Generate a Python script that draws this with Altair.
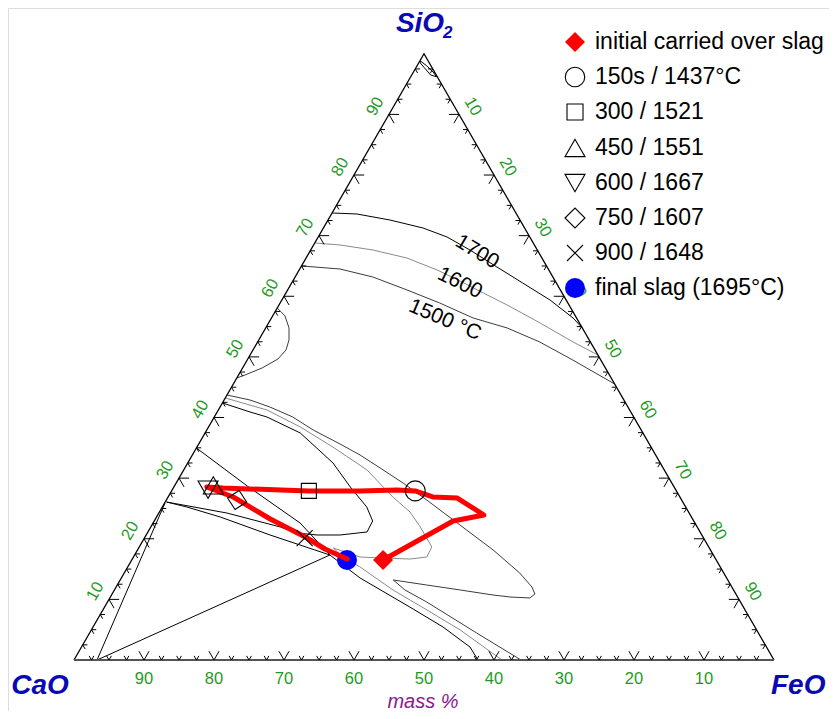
import altair as alt
import numpy as np
import pandas as pd

# ---------------- data (mass %) ----------------
# Boundary / isotherm curves, given as SiO2 and FeO mass % (CaO = 100 - SiO2 - FeO)
apex_sio2 = [98.8, 98.0, 97.0, 96.2, 96.5, 97.7, 98.5, 98.8]
apex_feo = [0.1, 1.4, 2.8, 3.7, 2.7, 1.2, 0.2, 0.1]

iso1700_sio2 = [73.74, 73.57, 72.58, 71.26, 69.78, 67.63, 64.83, 62.19, 59.39, 56.42, 54.8]
iso1700_feo = [0.0, 3.64, 8.85, 14.23, 18.4, 22.75, 28.0, 33.0, 38.3, 43.08, 45.2]

iso1600_sio2 = [68.79, 68.46, 67.63, 66.31, 64.34, 62.52, 60.54, 58.56, 55.59, 52.46, 50.31]
iso1600_feo = [0.0, 3.77, 8.9, 14.4, 19.7, 23.9, 28.2, 32.6, 38.8, 45.06, 49.69]

iso1500_sio2 = [65.0, 64.5, 63.18, 61.04, 58.89, 56.42, 54.77, 52.46, 49.49, 45.53]
iso1500_feo = [0.0, 5.75, 11.1, 17.05, 22.8, 28.8, 34.5, 40.3, 46.5, 54.47]

bulge_sio2 = [58.07, 56.75, 54.77, 52.79, 51.14, 49.65, 48.17, 47.01, 46.52]
bulge_feo = [0.0, 1.77, 3.33, 4.32, 4.72, 4.31, 2.78, 0.92, 0.0]

outer_sio2 = [43.71, 42.89, 41.74, 40.09, 37.94, 35.63, 33.82, 31.67, 29.20, 26.39, 22.27, 18.15,
              14.35, 12.04, 10.89, 10.23, 10.39, 10.72, 11.55, 12.37, 13.20, 11.55, 9.57, 4.45, 0.0]
outer_feo = [0.0, 3.7, 7.1, 11.2, 15.2, 20.2, 23.95, 27.9, 32.4, 37.2, 44.0, 50.8,
             56.5, 59.4, 60.4, 60.0, 57.1, 54.5, 49.4, 44.2, 39.0, 41.5, 45.6, 55.3, 63.86]

mid_sio2 = [43.22, 41.24, 38.44, 35.14, 31.34, 26.89, 24.41, 21.94, 18.64, 16.99, 16.66, 16.83,
            16.99, 18.48, 16.99, 15.34, 11.55, 8.25, 4.95, 0.0]
mid_feo = [0.0, 6.95, 13.1, 19.4, 26.2, 32.1, 35.8, 38.5, 41.8, 41.9, 39.7, 35.3,
           32.4, 27.8, 29.9, 33.2, 39.8, 46.3, 52.7, 61.14]

inner_sio2 = [42.40, 40.91, 40.09, 37.45, 32.50, 28.54, 25.24, 22.93, 21.12, 20.62, 20.62, 20.95,
              21.94, 24.25, 26.06]
inner_feo = [0.0, 4.7, 7.5, 13.6, 20.75, 25.2, 29.2, 31.2, 31.3, 27.7, 24.4, 21.4, 18.5, 9.7, 0.2]

low_sio2 = [26.06, 25.24, 23.59, 20.62, 17.32]
low_feo = [0.2, 3.5, 9.1, 17.7, 27.9]

tie_sio2 = [0.0, 17.32]
tie_feo = [3.29, 27.9]

edge_sio2 = [0.0, 25.9]
edge_feo = [3.29, 0.05]

down_sio2 = [17.32, 13.53, 8.74, 5.44, 2.14, 0.0]
down_feo = [27.9, 34.1, 43.6, 50.0, 55.5, 57.71]

diag_sio2 = [34.97, 28.70, 22.60, 17.32]
diag_feo = [0.0, 10.4, 21.0, 27.9]

# Slag path (red line), SiO2 / FeO mass %
path_sio2 = [16.5, 22.93, 23.92, 26.72, 26.89, 27.88, 28.04, 27.88, 27.88, 28.37, 28.54,
             26.89, 23.26, 20.29, 18.31, 16.66]
path_feo = [35.9, 42.7, 46.6, 41.4, 37.8, 34.8, 32.1, 26.9, 19.6, 7.1, 4.7,
            9.3, 16.4, 22.9, 26.7, 30.7]

# Slag samples
sample_labels = ["initial carried over slag", "150s / 1437°C", "300 / 1521", "450 / 1551",
                 "600 / 1667", "750 / 1607", "900 / 1648", "final slag (1695°C)"]
sample_sio2 = [16.5, 27.9, 27.9, 28.8, 28.1, 26.4, 20.1, 16.5]
sample_feo = [35.9, 34.8, 19.6, 5.5, 5.1, 10.1, 22.9, 30.75]

axis_values = [10, 20, 30, 40, 50, 60, 70, 80, 90]
isotherm_labels = ["1700", "1600", "1500 °C"]

# ---------------- geometry helpers ----------------
S3 = np.sqrt(3) / 2
PX = 7.0                      # pixels per mass-% unit
W, H = 821, 703
X0, Y0 = 66.0, 652.0          # plot pixel of the CaO corner


def tern(sio2, feo):
    s = np.asarray(sio2, float)
    f = np.asarray(feo, float)
    return f + s / 2, s * S3


def page(px, py):
    # page pixel -> plot data coordinates (for annotations / legend layout)
    return (px - 8 - X0) / PX, (Y0 - (py - 8)) / PX


xs = alt.Scale(domain=[-X0 / PX, (W - X0) / PX], nice=False, zero=False)
ys = alt.Scale(domain=[(Y0 - H) / PX, Y0 / PX], nice=False, zero=False)
XE = alt.X("X:Q", scale=xs, axis=None)
YE = alt.Y("Y:Q", scale=ys, axis=None)

FONT = "Liberation Sans"

# ---------------- curves ----------------
curves = [
    ("apex", apex_sio2, apex_feo, "k"),
    ("i1700", iso1700_sio2, iso1700_feo, "k"),
    ("i1600", iso1600_sio2, iso1600_feo, "g"),
    ("i1500", iso1500_sio2, iso1500_feo, "d"),
    ("bulge", bulge_sio2, bulge_feo, "d"),
    ("outer", outer_sio2, outer_feo, "d"),
    ("mid", mid_sio2, mid_feo, "g"),
    ("inner", inner_sio2, inner_feo, "k"),
    ("low", low_sio2, low_feo, "k"),
    ("tie", tie_sio2, tie_feo, "k"),
    ("edge", edge_sio2, edge_feo, "k"),
    ("down", down_sio2, down_feo, "k"),
    ("diag", diag_sio2, diag_feo, "k"),
]
rows = []
for name, s, f, st in curves:
    X, Y = tern(s, f)
    for i, (x, y) in enumerate(zip(X, Y)):
        rows.append(dict(curve=name, style=st, order=i, X=x, Y=y))
curve_df = pd.DataFrame(rows)

lines = alt.Chart(curve_df).mark_line(strokeWidth=1, strokeJoin="round").encode(
    x=XE, y=YE, detail="curve:N", order="order:Q",
    color=alt.Color("style:N", scale=alt.Scale(domain=["k", "g", "d"],
                                               range=["#000000", "#8a8a8a", "#3c3c3c"]), legend=None),
)

# triangle frame
fx, fy = tern([0, 100, 0], [0, 0, 100])
frame_df = pd.DataFrame(dict(X=fx, Y=fy, order=[0, 1, 2]))
frame = alt.Chart(frame_df).mark_line(color="black", strokeWidth=1.3).encode(x=XE, y=YE, order="order:Q")
bx, by = tern([0, 0], [0, 100])
bottom = alt.Chart(pd.DataFrame(dict(X=bx, Y=by))).mark_line(color="#555555", strokeWidth=2.2).encode(x=XE, y=YE)

# ticks
trows = []
for t in np.arange(2.5, 100, 2.5):
    major = abs(t % 10) < 1e-9
    L = 1.45 if major else 0.68
    bxp, byp = t, 0.0
    for dx, dy in [(0.5, S3), (-0.5, S3)]:
        trows.append(dict(X=bxp, Y=byp, X2=bxp + L * dx, Y2=byp + L * dy))
    lx, ly = tern(t, 0)
    for dx, dy in [(1.0, 0.0), (0.5, -S3)]:
        trows.append(dict(X=float(lx), Y=float(ly), X2=float(lx) + L * dx, Y2=float(ly) + L * dy))
    rx, ry = tern(100 - t, t)
    for dx, dy in [(-1.0, 0.0), (-0.5, -S3)]:
        trows.append(dict(X=float(rx), Y=float(ry), X2=float(rx) + L * dx, Y2=float(ry) + L * dy))
ticks = alt.Chart(pd.DataFrame(trows)).mark_rule(color="black", strokeWidth=1).encode(
    x=XE, y=YE, x2="X2:Q", y2="Y2:Q")

# tick labels
GREEN = "#1f9a1f"
TFS = 16.5
off = 16 / PX
lab_b = pd.DataFrame(dict(X=[100.0 - v for v in axis_values], Y=[-19 / PX] * 9, t=[str(v) for v in axis_values]))
lxs, lys = tern(axis_values, [0] * 9)
lab_l = pd.DataFrame(dict(X=lxs - off * S3, Y=lys + off * 0.5, t=[str(v) for v in axis_values]))
rxs, rys = tern([100 - v for v in axis_values], axis_values)
lab_r = pd.DataFrame(dict(X=rxs + off * S3, Y=rys + off * 0.5, t=[str(v) for v in axis_values]))
tl_b = alt.Chart(lab_b).mark_text(font=FONT, fontSize=TFS, color=GREEN, baseline="middle").encode(x=XE, y=YE, text="t:N")
tl_l = alt.Chart(lab_l).mark_text(font=FONT, fontSize=TFS, color=GREEN, baseline="middle", angle=300).encode(x=XE, y=YE, text="t:N")
tl_r = alt.Chart(lab_r).mark_text(font=FONT, fontSize=TFS, color=GREEN, baseline="middle", angle=60).encode(x=XE, y=YE, text="t:N")

# isotherm labels
iso_pos = [(477, 252, 31), (460, 283, 26), (445, 320, 23)]
iso_rows = []
for lab, (px, py, a) in zip(isotherm_labels, iso_pos):
    x, y = page(px, py)
    iso_rows.append(dict(X=x, Y=y, t=lab, a=a))
iso_txt = alt.Chart(pd.DataFrame(iso_rows)).mark_text(font=FONT, fontSize=21, color="black", baseline="middle").encode(
    x=XE, y=YE, text="t:N", angle=alt.Angle("a:Q", scale=None))

# red path
px_, py_ = tern(path_sio2, path_feo)
path_df = pd.DataFrame(dict(X=px_, Y=py_, order=range(len(px_))))
red = alt.Chart(path_df).mark_line(color="#ff0000", strokeWidth=5, strokeJoin="round", strokeCap="round").encode(
    x=XE, y=YE, order="order:Q")

# sample markers
XPATH = "M-1,-1L1,1M-1,1L1,-1"
shapes = ["diamond", "circle", "square", "triangle-up", "triangle-down", "diamond", XPATH, "circle"]
sizes_plot = [400, 400, 225, 400, 400, 380, 256, 400]
angles_plot = [0, 0, 0, 0, 0, 12, 0, 0]
sx, sy = tern(sample_sio2, sample_feo)
samp = pd.DataFrame(dict(X=sx, Y=sy, lab=sample_labels, shp=shapes, sz=sizes_plot, ang=angles_plot))
open_s = samp.iloc[1:7]
filled_red = samp.iloc[[0]]
filled_blue = samp.iloc[[7]]

SH = alt.Shape("shp:N", scale=None)
m_open = alt.Chart(open_s).mark_point(filled=False, color="black", strokeWidth=1.1, opacity=1).encode(
    x=XE, y=YE, shape=SH, size=alt.Size("sz:Q", scale=None), angle=alt.Angle("ang:Q", scale=None))
m_red = alt.Chart(filled_red).mark_point(filled=True, color="#ff0000", opacity=1).encode(
    x=XE, y=YE, shape=SH, size=alt.Size("sz:Q", scale=None))
m_blue = alt.Chart(filled_blue).mark_point(filled=True, color="#0000ff", opacity=1).encode(
    x=XE, y=YE, shape=SH, size=alt.Size("sz:Q", scale=None))

# legend (manual)
leg_y = [42, 77, 112, 148, 183, 218, 253, 288]
leg_sizes = [400, 380, 256, 400, 400, 400, 256, 400]
lrows = []
for i, (lab, shp, yy) in enumerate(zip(sample_labels, shapes, leg_y)):
    x, y = page(575, yy)
    tx, _ = page(595, yy)
    lrows.append(dict(X=x, Y=y, TX=tx, lab=lab, shp=shp, sz=leg_sizes[i], kind=i))
leg = pd.DataFrame(lrows)
leg_open = alt.Chart(leg.iloc[1:7]).mark_point(filled=False, color="black", strokeWidth=1.1, opacity=1).encode(
    x=XE, y=YE, shape=SH, size=alt.Size("sz:Q", scale=None))
leg_red = alt.Chart(leg.iloc[[0]]).mark_point(filled=True, color="#ff0000", opacity=1).encode(
    x=XE, y=YE, shape=SH, size=alt.Size("sz:Q", scale=None))
leg_blue = alt.Chart(leg.iloc[[7]]).mark_point(filled=True, color="#0000ff", opacity=1).encode(
    x=XE, y=YE, shape=SH, size=alt.Size("sz:Q", scale=None))
leg_txt = alt.Chart(leg).mark_text(font=FONT, fontSize=23, color="black", align="left", baseline="middle").encode(
    x=alt.X("TX:Q", scale=xs, axis=None), y=YE, text="lab:N")

# corner / axis titles
BLUE = "#0a0ab4"
ttl = []
for t, px, py, fs in [("CaO", 40, 694, 28), ("SiO", 420, 32, 28)]:
    x, y = page(px, py)
    ttl.append(dict(X=x, Y=y, t=t, fs=fs))
titles = alt.Chart(pd.DataFrame(ttl)).mark_text(font=FONT, fontWeight="bold", fontStyle="italic", color=BLUE,
                                               baseline="alphabetic", align="center").encode(
    x=XE, y=YE, text="t:N", size=alt.Size("fs:Q", scale=None))
fx2, fy2 = page(771, 694)
feo_t = alt.Chart(pd.DataFrame(dict(X=[fx2], Y=[fy2], t=["FeO"]))).mark_text(
    font=FONT, fontWeight="bold", fontStyle="italic", color=BLUE, fontSize=28, align="left",
    baseline="alphabetic").encode(x=XE, y=YE, text="t:N")
sx2, sy2 = page(443, 38)
sub2 = alt.Chart(pd.DataFrame(dict(X=[sx2], Y=[sy2], t=["2"]))).mark_text(
    font=FONT, fontWeight="bold", fontStyle="italic", color=BLUE, fontSize=17, align="left",
    baseline="alphabetic").encode(x=XE, y=YE, text="t:N")
mx, my = page(423, 708)
mass = alt.Chart(pd.DataFrame(dict(X=[mx], Y=[my], t=["mass %"]))).mark_text(
    font=FONT, fontStyle="italic", color="#8b1a8b", fontSize=20, align="center",
    baseline="alphabetic").encode(x=XE, y=YE, text="t:N")

chart = alt.layer(
    lines, frame, bottom, ticks, tl_b, tl_l, tl_r, iso_txt,
    m_red, m_blue, red, m_open,
    leg_red, leg_blue, leg_open, leg_txt,
    titles, feo_t, sub2, mass,
).properties(width=W, height=H, padding=0, autosize=alt.AutoSizeParams(type="none")
).configure_view(stroke=None).configure(background="white")

chart.save("out.html", embed_options={"renderer": "svg", "actions": False})
